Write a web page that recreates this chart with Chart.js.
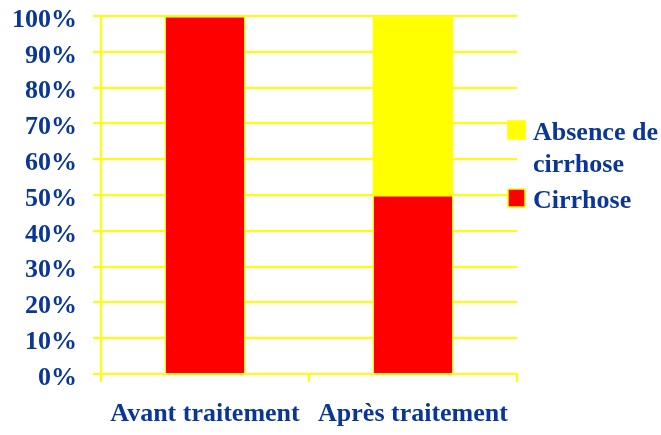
<!DOCTYPE html>
<html>
<head>
<meta charset="utf-8">
<script src="https://cdn.jsdelivr.net/npm/chart.js@4"></script>
<style>
  html, body { margin: 0; padding: 0; background: #ffffff; }
  canvas { display: block; }
</style>
</head>
<body>
<canvas id="chart" width="661" height="435"></canvas>
<script>
// Share of patients with / without cirrhosis, before and after treatment
const categories = ['Avant traitement', 'Après traitement'];
const cirrhose = [100, 50];
const absenceCirrhose = [0, 50];
const seriesNames = ['Cirrhose', 'Absence de cirrhose'];
const seriesColors = ['#ff0000', '#ffff00'];

const textBlue = '#0a3797';
const lineYellow = '#ffff00';
const labelFont = { family: "'Liberation Serif', 'Times New Roman', serif", size: 26, weight: 'bold' };

// Legend column on the right: top series first, long names wrapped
const sideLegend = {
  id: 'sideLegend',
  afterDraw(chart, args, opts) {
    const ctx = chart.ctx;
    const sets = chart.data.datasets.slice().reverse();
    ctx.save();
    ctx.font = `${labelFont.weight} ${labelFont.size}px ${labelFont.family}`;
    ctx.textBaseline = 'alphabetic';
    ctx.textAlign = 'left';
    let top = opts.top;
    const maxW = chart.width - opts.textX;
    sets.forEach(ds => {
      // wrap the name to the space left of the canvas edge
      const words = ds.label.split(' ');
      const lines = [];
      let cur = '';
      words.forEach(w => {
        const t = cur ? cur + ' ' + w : w;
        if (cur && ctx.measureText(t).width > maxW) { lines.push(cur); cur = w; }
        else cur = t;
      });
      if (cur) lines.push(cur);

      ctx.fillStyle = ds.backgroundColor;
      ctx.fillRect(opts.boxX, top, opts.boxW, opts.boxH);
      ctx.strokeStyle = lineYellow;
      ctx.lineWidth = 1.5;
      ctx.strokeRect(opts.boxX, top, opts.boxW, opts.boxH);

      ctx.fillStyle = textBlue;
      lines.forEach((ln, i) => {
        ctx.fillText(ln, opts.textX, top + opts.boxH + 1 + i * opts.lineGap);
      });
      top += lines.length * opts.lineGap + 4;
    });
    ctx.restore();
  }
};

new Chart(document.getElementById('chart'), {
  type: 'bar',
  data: {
    labels: categories,
    datasets: [
      {
        label: seriesNames[0],
        data: cirrhose,
        backgroundColor: seriesColors[0],
        borderColor: lineYellow,
        borderWidth: 1.5
      },
      {
        label: seriesNames[1],
        data: absenceCirrhose,
        backgroundColor: seriesColors[1],
        borderColor: lineYellow,
        borderWidth: 1.5
      }
    ]
  },
  options: {
    responsive: false,
    animation: false,
    devicePixelRatio: 1,
    layout: { padding: { top: 16, right: 144, bottom: 0, left: 0 } },
    categoryPercentage: 1,
    barPercentage: 0.39,
    plugins: {
      legend: { display: false },
      tooltip: { enabled: false },
      sideLegend: { boxX: 508, boxW: 17, boxH: 18, top: 121, textX: 533, lineGap: 32 }
    },
    scales: {
      x: {
        stacked: true,
        offset: true,
        grid: {
          offset: true,
          drawOnChartArea: false,
          drawTicks: true,
          tickLength: 8,
          color: lineYellow,
          lineWidth: 2
        },
        border: { color: lineYellow, width: 2 },
        ticks: { color: textBlue, font: labelFont, padding: 17, maxRotation: 0 },
        afterFit(scale) { scale.height = 61; scale.paddingLeft = 0; scale.paddingRight = 0; }
      },
      y: {
        stacked: true,
        min: 0,
        max: 100,
        grid: {
          color: lineYellow,
          lineWidth: 2,
          tickLength: 8
        },
        border: { color: lineYellow, width: 2 },
        ticks: {
          stepSize: 10,
          color: textBlue,
          font: labelFont,
          padding: 16,
          labelOffset: 4,
          callback: v => v + '%'
        },
        afterFit(scale) { scale.width = 101; scale.paddingTop = 0; scale.paddingBottom = 0; }
      }
    }
  },
  plugins: [sideLegend]
});
</script>
</body>
</html>
